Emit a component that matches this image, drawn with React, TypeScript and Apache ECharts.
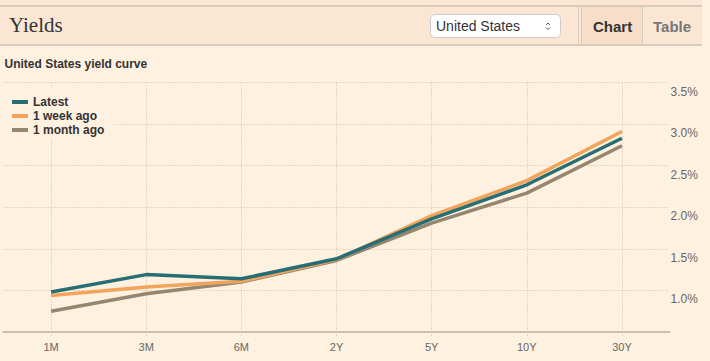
import React, { useEffect, useRef } from "react";
import * as echarts from "echarts";

const categories = ["1M", "3M", "6M", "2Y", "5Y", "10Y", "30Y"];
const latest = [0.98, 1.19, 1.14, 1.38, 1.86, 2.27, 2.83];
const weekAgo = [0.94, 1.04, 1.11, 1.37, 1.9, 2.32, 2.91];
const monthAgo = [0.75, 0.96, 1.1, 1.36, 1.81, 2.17, 2.74];
const seriesNames = ["Latest", "1 week ago", "1 month ago"];
const seriesColors = ["#266e73", "#f0a45c", "#96856f"];
const yMin = 0.5;
const yMax = 3.5;
const yStep = 0.5;

const SANS = "'Liberation Sans', Arial, sans-serif";
const SERIF = "'Liberation Serif', 'Times New Roman', serif";
const PAGE_BG = "#fff1e0";
const HEADER_BG = "#fae6d3";
const RULE = "#d9cbbb";
const GRID = "#cdbfae";

export default function App() {
  const ref = useRef<HTMLDivElement>(null);
  useEffect(() => {
    document.body.style.margin = "0";
    const chart = echarts.init(ref.current!, null, { renderer: "svg" });
    const lineStyleFor = (i: number) => ({ color: seriesColors[i], width: 3.5 });
    chart.setOption({
      animation: false,
      backgroundColor: PAGE_BG,
      grid: { left: 3.5, right: 40.5, top: 82.5, bottom: 29, containLabel: false },
      legend: {
        data: seriesNames,
        orient: "vertical",
        left: 4,
        top: 87,
        padding: [8, 8, 2, 8],
        backgroundColor: PAGE_BG,
        icon: "rect",
        itemWidth: 16,
        itemHeight: 4,
        itemGap: 0,
        itemTextGap: 5,
        selectedMode: false,
        textStyle: { fontFamily: SANS, fontSize: 12, fontWeight: "bold", color: "#333", lineHeight: 14 },
      },
      xAxis: {
        type: "category",
        data: categories,
        boundaryGap: true,
        axisLine: { show: true, lineStyle: { color: GRID, width: 2 } },
        axisTick: { show: true, alignWithLabel: true, length: 6, lineStyle: { color: GRID, type: [1, 2] } },
        splitLine: { show: true, alignWithLabel: true, lineStyle: { color: GRID, type: [1, 2], width: 1 } },
        axisLabel: { color: "#666", fontFamily: SANS, fontSize: 11, margin: 9 },
      },
      yAxis: {
        type: "value",
        position: "right",
        min: yMin,
        max: yMax,
        interval: yStep,
        axisLine: { show: false },
        axisTick: { show: false },
        splitLine: { show: true, lineStyle: { color: GRID, type: [1, 2], width: 1 } },
        axisLabel: {
          showMinLabel: false,
          margin: 1,
          color: "#666",
          fontFamily: SANS,
          fontSize: 12,
          align: "left",
          verticalAlign: "top",
          padding: [3, 0, 0, 0],
          formatter: (v: number) => v.toFixed(1) + "%",
        },
      },
      series: [
        { name: seriesNames[2], type: "line", data: monthAgo, symbol: "none", lineStyle: lineStyleFor(2), itemStyle: { color: seriesColors[2] } },
        { name: seriesNames[1], type: "line", data: weekAgo, symbol: "none", lineStyle: lineStyleFor(1), itemStyle: { color: seriesColors[1] } },
        { name: seriesNames[0], type: "line", data: latest, symbol: "none", lineStyle: lineStyleFor(0), itemStyle: { color: seriesColors[0] } },
      ],
      graphic: [
        { type: "rect", shape: { x: 0, y: 0, width: 702, height: 46 }, style: { fill: HEADER_BG }, silent: true },
        { type: "rect", shape: { x: 582, y: 7, width: 60, height: 37 }, style: { fill: "#f8dec8" }, silent: true },
        { type: "rect", shape: { x: 0, y: 5, width: 702, height: 2 }, style: { fill: RULE }, silent: true },
        { type: "rect", shape: { x: 0, y: 44, width: 702, height: 2 }, style: { fill: RULE }, silent: true },
        { type: "line", shape: { x1: 578.5, y1: 7, x2: 578.5, y2: 44 }, style: { stroke: RULE, lineWidth: 1 }, silent: true },
        { type: "line", shape: { x1: 581.5, y1: 7, x2: 581.5, y2: 44 }, style: { stroke: RULE, lineWidth: 1 }, silent: true },
        { type: "line", shape: { x1: 642.5, y1: 7, x2: 642.5, y2: 44 }, style: { stroke: RULE, lineWidth: 1 }, silent: true },
        {
          type: "text",
          x: 9,
          y: 25,
          style: { text: "Yields", font: "21px " + SERIF, fill: "#333", verticalAlign: "middle" },
          silent: true,
        },
        {
          type: "rect",
          shape: { x: 430.5, y: 14.5, width: 130, height: 23, r: 4 },
          style: { fill: "#ffffff", stroke: "#cccccc", lineWidth: 1 },
          silent: true,
        },
        {
          type: "text",
          x: 436,
          y: 26,
          style: { text: "United States", font: "14px " + SANS, fill: "#333", verticalAlign: "middle" },
          silent: true,
        },
        { type: "polyline", shape: { points: [[546, 25], [548, 23], [550, 25]] }, style: { stroke: "#555", lineWidth: 1, fill: null }, silent: true },
        { type: "polyline", shape: { points: [[546, 27.5], [548, 29.5], [550, 27.5]] }, style: { stroke: "#555", lineWidth: 1, fill: null }, silent: true },
        {
          type: "text",
          x: 593,
          y: 26,
          style: { text: "Chart", font: "bold 15px " + SANS, fill: "#333", verticalAlign: "middle" },
          silent: true,
        },
        {
          type: "text",
          x: 653,
          y: 26,
          style: { text: "Table", font: "bold 15px " + SANS, fill: "#777", verticalAlign: "middle" },
          silent: true,
        },
        {
          type: "text",
          x: 4.5,
          y: 63.5,
          style: { text: "United States yield curve", font: "bold 12px " + SANS, fill: "#333", verticalAlign: "middle" },
          silent: true,
        },
      ],
    });
    return () => chart.dispose();
  }, []);
  return <div ref={ref} style={{ position: "fixed", left: 0, top: 0, width: 710, height: 361 }} />;
}
